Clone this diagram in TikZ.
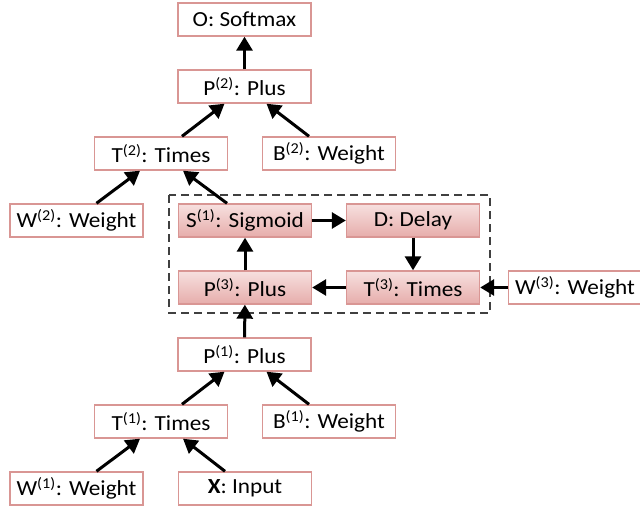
\documentclass[tikz,border=0pt]{standalone}
\usepackage{fontspec}
\setmainfont{Carlito}[FakeStretch=1.08]
\usetikzlibrary{arrows.meta}
\definecolor{BoxRed}{HTML}{D99694}
\definecolor{FillTop}{HTML}{F7E0DF}
\definecolor{FillBot}{HTML}{E6ADAB}
\definecolor{LoopGray}{HTML}{404040}

\begin{document}
\begin{tikzpicture}[
    x=1pt, y=-1pt,
    font=\fontsize{21.5}{23}\selectfont,
    % 默认箭头
    >={Triangle[width=16pt,length=14pt]},
    % 普通方框
    opbox/.style={draw=BoxRed, line width=1.4pt, fill=white,
        minimum width=133pt, minimum height=33pt, inner sep=0pt},
    % 循环内的方框(渐变填充)
    loopbox/.style={opbox, top color=FillTop, bottom color=FillBot},
    link/.style={->, line width=3pt}
]

    \useasboundingbox (0,0) rectangle (640,508);

    % --- 1. 循环外框 ---
    \draw[LoopGray, line width=1.3pt, dash pattern=on 8pt off 5pt]
        (169,195) rectangle (490,313);

    % --- 2. 普通节点 ---
    \foreach \name/\x/\y/\txt in {
        O/244.5/19.5/{O: Softmax},
        P2/244.5/86.5/{P\textsuperscript{(2)}: Plus},
        T2/161/153.5/{T\textsuperscript{(2)}: Times},
        B2/329/153.5/{B\textsuperscript{(2)}: Weight},
        W2/76.5/220.5/{W\textsuperscript{(2)}: Weight},
        W3/575/287.5/{W\textsuperscript{(3)}: Weight},
        P1/244.5/354.5/{P\textsuperscript{(1)}: Plus},
        T1/161/421.5/{T\textsuperscript{(1)}: Times},
        B1/329/421.5/{B\textsuperscript{(1)}: Weight},
        W1/76.5/488.5/{W\textsuperscript{(1)}: Weight},
        X/245/488.5/{\textbf{X}: Input}
    } {
        \node[opbox] (\name) at (\x,\y) {\txt};
    }

    % --- 3. 循环节点 ---
    \foreach \name/\x/\y/\txt in {
        S1/245/220.5/{S\textsuperscript{(1)}: Sigmoid},
        D/413/220.5/{D: Delay},
        P3/245/287.5/{P\textsuperscript{(3)}: Plus},
        T3/413/287.5/{T\textsuperscript{(3)}: Times}
    } {
        \node[loopbox] (\name) at (\x,\y) {\txt};
    }

    % --- 4. 斜向箭头 ---
    \foreach \from/\fs/\to/\ts in {
        T2/21/P2/-20, B2/-20/P2/22,
        W2/20/T2/-21, S1/-18/T2/22,
        T1/21/P1/-20, B1/-20/P1/22,
        W1/20/T1/-21, X/-20/T1/22
    } {
        \draw[link] ([xshift=\fs pt]\from.north) -- ([xshift=\ts pt]\to.south);
    }

    % --- 5. 直向箭头 ---
    \draw[link] (P2) -- (O);
    \draw[link] (P1) -- (P3);
    \draw[link] (P3) -- (S1);
    \draw[link] (S1) -- (D);
    \draw[link] (D) -- (T3);
    \draw[link] (T3) -- (P3);
    \draw[link] (W3) -- (T3);

\end{tikzpicture}
\end{document}
